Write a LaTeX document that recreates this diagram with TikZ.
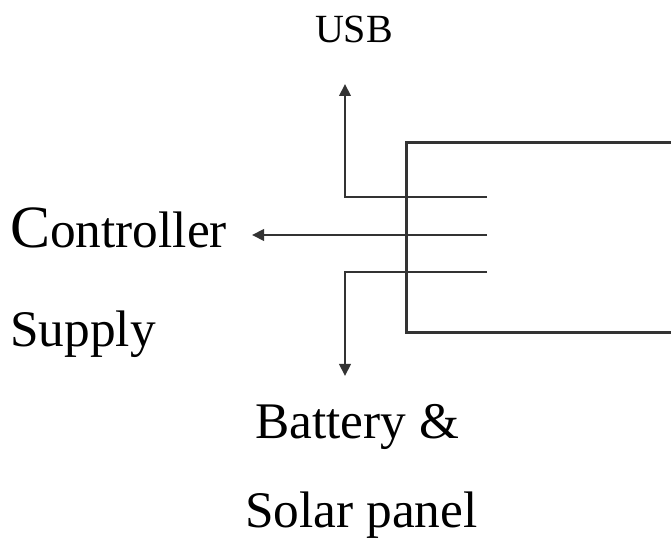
\documentclass[tikz,border=0pt]{standalone}
\usepackage{fontspec}
\setmainfont{Liberation Serif}
\usepackage{tikz}
\usetikzlibrary{arrows.meta,positioning,calc}

\begin{document}
\begin{tikzpicture}[
    x=0.75pt, y=-0.75pt,
    wire/.style={draw=black!80, line width=2.1pt},
    tipwire/.style={wire, -{Triangle[length=9pt,width=8.5pt]}},
    unitbox/.style={rectangle, draw=black!80, line width=2.1pt, minimum width=199.5pt, minimum height=142.5pt, inner sep=0pt},
    label/.style={inner sep=0pt, font=\fontsize{38.5}{40}\selectfont}
]
  \useasboundingbox (0,0) rectangle (671,541);
  \node[unitbox] (panel) at (539.5,237.5) {};

  \coordinate (pinusb) at (487,197);
  \coordinate (pinctl) at (487,235);
  \coordinate (pinbat) at (487,272);
  \coordinate (tipusb) at (345,84);
  \coordinate (tipctl) at (252,235);
  \coordinate (tipbat) at (345,376);

  \node[label, anchor=base, font=\fontsize{30}{32}\selectfont] (usb) at (354,43) {USB};
  \node[label, anchor=base west] (ctl) at (10,248) {{\fontsize{45}{45}\selectfont C}ontroller};
  \node[label, anchor=base west] (sup) at (10,347) {Supply};
  \node[label, anchor=base west] (bat) at (255,438) {Battery \&};
  \node[label, anchor=base west] (sol) at (245,527) {Solar panel};

  \draw[tipwire] (pinusb) -| (tipusb);
  \draw[tipwire] (pinctl) -- (tipctl);
  \draw[tipwire] (pinbat) -| (tipbat);
\end{tikzpicture}
\end{document}
